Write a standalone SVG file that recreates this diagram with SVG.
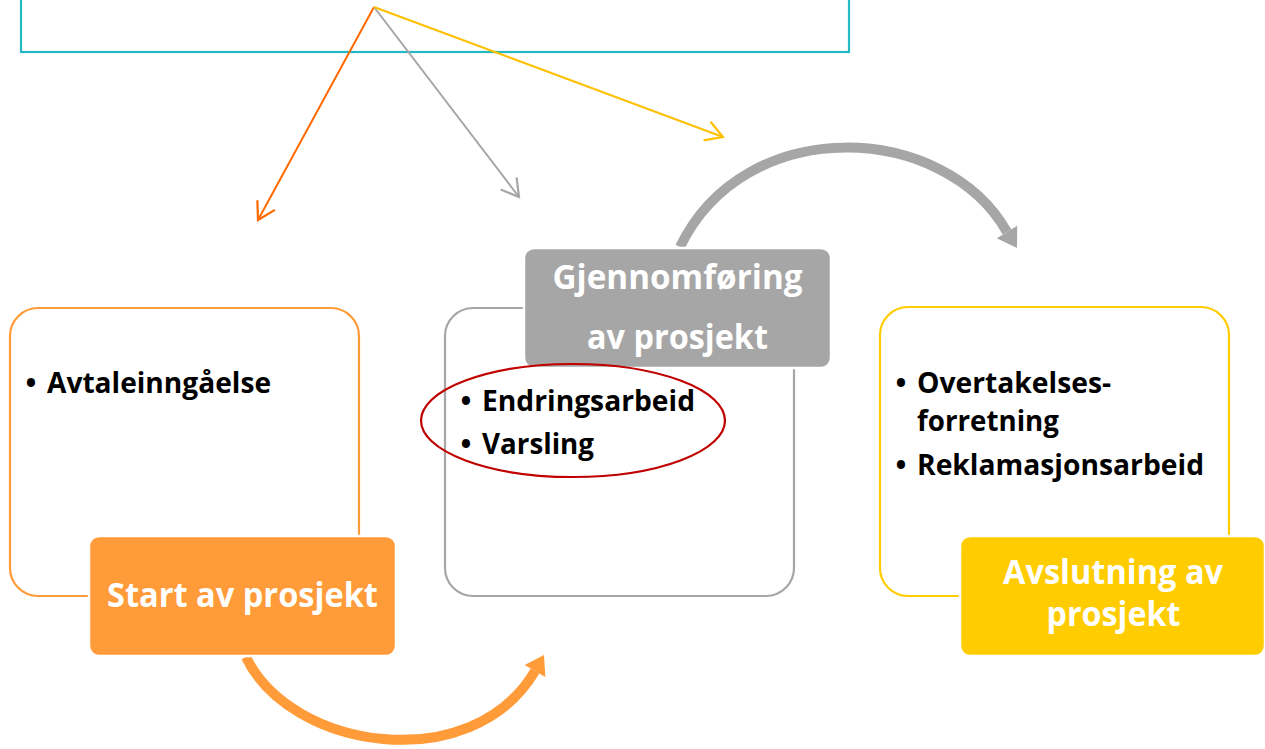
<svg xmlns="http://www.w3.org/2000/svg" width="1265" height="749" viewBox="0 0 1265 749">
<style>
  .frame { fill: #FFFFFF; stroke-width: 2.2; }
  .label { stroke: #FFFFFF; stroke-width: 2.5; }
  .lt { font-family: "Open Sans", "Liberation Sans", sans-serif; font-weight: bold; font-size: 34px; fill: #FFFFFF; text-anchor: middle; }
  .bt { font-family: "Open Sans", "Liberation Sans", sans-serif; font-weight: bold; font-size: 29px; fill: #000000; }
  .bul { font-family: "Open Sans", "Liberation Sans", sans-serif; font-weight: bold; font-size: 29px; fill: #000000; text-anchor: middle; }
  .thin { fill: none; stroke-width: 2; }
  .thick { fill: none; stroke-width: 10; }
</style>
<defs>
  <marker id="vOrange" markerUnits="userSpaceOnUse" markerWidth="40" markerHeight="40" viewBox="-20 -20 40 40" refX="0" refY="0" orient="auto">
    <path d="M -17 -10 L 0 0 L -17 10" fill="none" stroke="#FF6A00" stroke-width="2.2"/>
  </marker>
  <marker id="vGray" markerUnits="userSpaceOnUse" markerWidth="40" markerHeight="40" viewBox="-20 -20 40 40" refX="0" refY="0" orient="auto">
    <path d="M -17 -10 L 0 0 L -17 10" fill="none" stroke="#A6A6A6" stroke-width="2.2"/>
  </marker>
  <marker id="vYellow" markerUnits="userSpaceOnUse" markerWidth="40" markerHeight="40" viewBox="-20 -20 40 40" refX="0" refY="0" orient="auto">
    <path d="M -17 -10 L 0 0 L -17 10" fill="none" stroke="#FFC000" stroke-width="2.2"/>
  </marker>
</defs>
<rect width="1265" height="749" fill="#FFFFFF"/>

<g id="top-box">
  <rect x="21" y="-10" width="828" height="62" fill="#FFFFFF" stroke="#25B8C5" stroke-width="2.2"/>
</g>

<g id="connectors">
  <line class="thin" x1="374" y1="7" x2="258" y2="220" stroke="#FF6A00" marker-end="url(#vOrange)"/>
  <line class="thin" x1="374" y1="7" x2="519" y2="197" stroke="#A6A6A6" marker-end="url(#vGray)"/>
  <line class="thin" x1="374" y1="7" x2="723" y2="137" stroke="#FFC000" marker-end="url(#vYellow)"/>
  <path class="thick" d="M 246 657 C 290 750, 472 778, 535 671" stroke="#FF9B38"/>
  <polygon points="545.3,677.1 524.7,664.9 544,655" fill="#FF9B38"/>
  <path class="thick" d="M 680 247 C 745 112, 945 122, 1007 232" stroke="#A6A6A6"/>
  <polygon points="1017.2,225.8 996.8,238.2 1017,248" fill="#A6A6A6"/>
</g>

<g id="node-start">
  <rect class="frame" x="10" y="308" width="349" height="288" rx="28" stroke="#FF9B38"/>
  <text class="bul" x="31" y="393">•</text>
  <text class="bt" x="47" y="393" textLength="224" lengthAdjust="spacingAndGlyphs">Avtaleinngåelse</text>
  <rect class="label" x="89" y="536" width="307" height="120" rx="10" fill="#FF9B38"/>
  <text class="lt" x="242.5" y="607" textLength="271" lengthAdjust="spacingAndGlyphs">Start av prosjekt</text>
</g>

<g id="node-gjennomforing">
  <rect class="frame" x="445" y="308" width="349" height="288" rx="28" stroke="#A6A6A6"/>
  <rect class="label" x="524" y="248" width="307" height="120" rx="10" fill="#A6A6A6"/>
  <text class="lt" x="677.5" y="289" textLength="250" lengthAdjust="spacingAndGlyphs">Gjennomføring</text>
  <text class="lt" x="677.5" y="349" textLength="181" lengthAdjust="spacingAndGlyphs">av prosjekt</text>
  <ellipse cx="573" cy="420.5" rx="152" ry="56.5" fill="none" stroke="#C00000" stroke-width="2.2"/>
  <text class="bul" x="466" y="411">•</text>
  <text class="bt" x="482" y="411" textLength="213" lengthAdjust="spacingAndGlyphs">Endringsarbeid</text>
  <text class="bul" x="466" y="454">•</text>
  <text class="bt" x="482" y="454" textLength="112" lengthAdjust="spacingAndGlyphs">Varsling</text>
</g>

<g id="node-avslutning">
  <rect class="frame" x="880" y="307" width="349" height="289" rx="28" stroke="#FFCC00"/>
  <text class="bul" x="901" y="393">•</text>
  <text class="bt" x="917" y="393" textLength="194" lengthAdjust="spacingAndGlyphs">Overtakelses-</text>
  <text class="bt" x="917" y="431" textLength="142" lengthAdjust="spacingAndGlyphs">forretning</text>
  <text class="bul" x="901" y="475">•</text>
  <text class="bt" x="917" y="475" textLength="287" lengthAdjust="spacingAndGlyphs">Reklamasjonsarbeid</text>
  <rect class="label" x="960" y="536" width="305" height="120" rx="10" fill="#FFCC00"/>
  <text class="lt" x="1113" y="584" textLength="220" lengthAdjust="spacingAndGlyphs">Avslutning av</text>
  <text class="lt" x="1113.5" y="626" textLength="134" lengthAdjust="spacingAndGlyphs">prosjekt</text>
</g>
</svg>
